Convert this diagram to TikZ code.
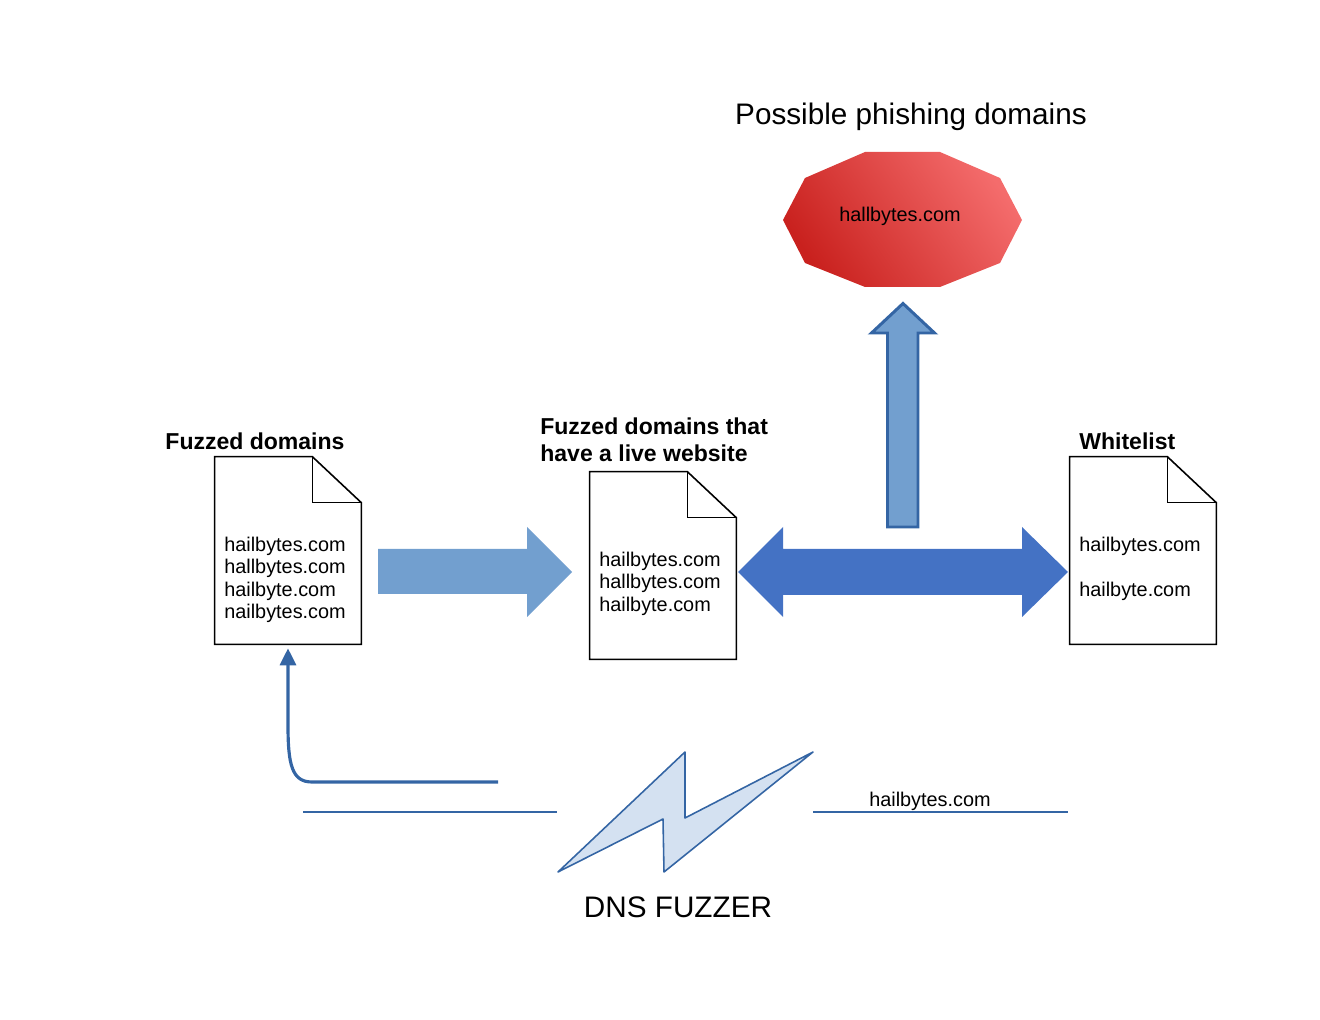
\documentclass[tikz,border=0pt]{standalone}
\usepackage{fontspec}
\setmainfont{Liberation Sans}
\usetikzlibrary{calc}
\usetikzlibrary{arrows.meta}
\definecolor{arrowblue}{HTML}{729FCF}
\definecolor{darkblue}{HTML}{4472C4}
\definecolor{lineblue}{HTML}{3465A4}
\definecolor{boltblue}{HTML}{D4E1F1}
\definecolor{darkred}{HTML}{C9211E}
\definecolor{lightred}{HTML}{F46C6C}

\begin{document}
\begin{tikzpicture}[x=0.02cm,y=-0.02cm,
    page/.style={minimum width=2.92cm,minimum height=3.74cm,inner sep=0pt},
    domaintext/.style={font=\fontsize{11.3}{12.75}\selectfont,align=left,anchor=west,inner sep=0pt},
    heading/.style={font=\fontsize{13.1}{15.3}\selectfont\bfseries,align=left,inner sep=0pt},
    bigtext/.style={font=\fontsize{16.9}{20}\selectfont,inner sep=0pt}]
    \useasboundingbox (0,0) rectangle (1320,1020);

    % Drawing the three domain lists

    \node[page] (fuzzed) at (288,550.5) {};%
    \node[page] (live) at (663,565.5) {};%
    \node[page] (white) at (1143,550.5) {};%
    \foreach \d in {fuzzed,live,white}{
        \draw [line width=0.9pt] (\d.north west) -- ($(\d.north east)+(-49,0)$) -- ($(\d.north east)+(0,46)$) -- (\d.south east) -- (\d.south west) -- cycle;%
        \draw [line width=0.9pt] ($(\d.north east)+(-49,0)$) -- ($(\d.north east)+(-49,46)$) -- ($(\d.north east)+(0,46)$);%
    }

    \node[domaintext] (fuzzedlist) at (224,580) {hailbytes.com\\hallbytes.com\\hailbyte.com\\nailbytes.com};%
    \node[domaintext] (livelist) at (599,583.5) {hailbytes.com\\hallbytes.com\\hailbyte.com};%
    \node[domaintext] (whitelist) at (1079,568.5) {hailbytes.com\\[12.75pt]hailbyte.com};%

    \node[heading] (fuzzedlabel) at (255,441) {Fuzzed domains};%
    \node[heading,anchor=west] (livelabel) at (540,439.5) {Fuzzed domains that\\have a live website};%
    \node[heading,anchor=west] (whitelabel) at (1079,441) {Whitelist};%

    % Drawing the phishing result

    \node[bigtext] (phishlabel) at (911,117) {Possible phishing domains};%
    \shade [top color=darkred,bottom color=lightred,shading angle=125] (865,152) -- (940,152) -- (1000,178) -- (1022,220) -- (1000,263) -- (940,287) -- (865,287) -- (805,263) -- (783,220) -- (805,178) -- cycle;%
    \node[font=\fontsize{11.3}{12.75}\selectfont,inner sep=0pt] (phish) at (900,216) {hallbytes.com};%

    % Block arrows

    \fill [arrowblue] (378,549) -- (527,549) -- (527,527) -- (572,572) -- (527,617) -- (527,594) -- (378,594) -- cycle;%
    \fill [darkblue] (738,572) -- (783,527) -- (783,549) -- (1022,549) -- (1022,527) -- (1068,572) -- (1022,617) -- (1022,595) -- (783,595) -- (783,617) -- cycle;%
    \draw [lineblue,fill=arrowblue,line width=1.7pt] (887.5,527) -- (887.5,333) -- (871.5,333) -- (903,303.5) -- (934.5,333) -- (918,333) -- (918,527) -- cycle;%

    % Drawing the fuzzer

    \draw [lineblue,fill=boltblue,line width=0.9pt,line join=round] (558,872) -- (685,752) -- (685,818) -- (813,752) -- (664,872) -- (663,819) -- cycle;%
    \coordinate (wireleft) at (303,812);%
    \coordinate (wirebolt) at (557,812);%
    \coordinate (boltwire) at (813,812);%
    \coordinate (wireright) at (1068,812);%
    \draw [lineblue,line width=0.6pt] (wireleft) -- (wirebolt);%
    \draw [lineblue,line width=0.6pt] (boltwire) -- (wireright);%
    \node[font=\fontsize{11.3}{12.75}\selectfont,inner sep=0pt] (target) at (930,801) {hailbytes.com};%
    \node[bigtext] (fuzzer) at (678,907) {DNS FUZZER};%

    \coordinate (loopstart) at (498,782);%
    \draw [lineblue,line width=1.8pt,shorten >=0.08cm,-{Triangle[length=0.34cm,width=0.32cm]}] (loopstart) -- (312,782) .. controls (292,782) and (288,765) .. (288,725) -- (fuzzed.south);%

\end{tikzpicture}
\end{document}
